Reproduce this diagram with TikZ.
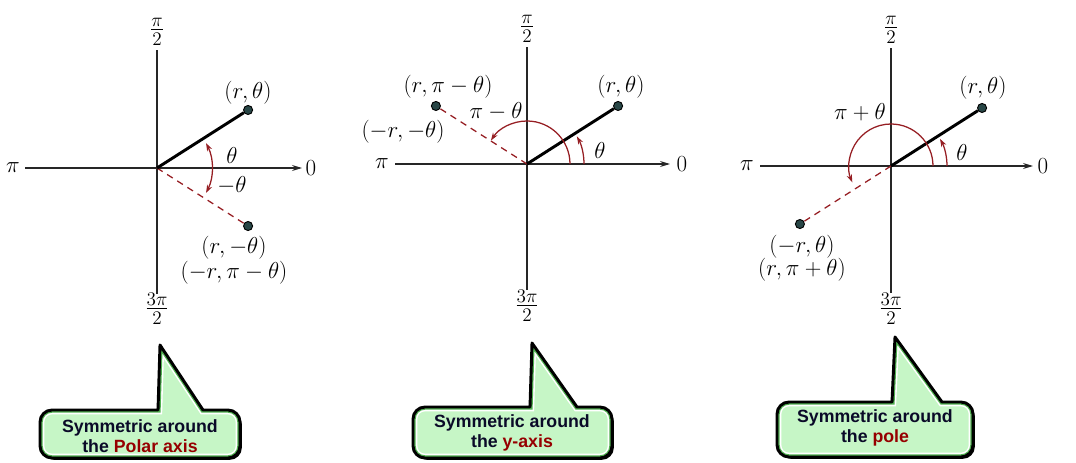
\documentclass[tikz,border=0pt]{standalone}
\usepackage{fontspec}
\newfontfamily\calloutfont{Liberation Sans}
\usetikzlibrary{arrows.meta}
\definecolor{dred}{RGB}{150,30,35}
\definecolor{cfill}{RGB}{198,246,198}
\definecolor{cgreen}{RGB}{80,175,80}
\definecolor{tred}{RGB}{150,0,0}
\definecolor{tnavy}{RGB}{10,10,40}
\definecolor{ptfill}{RGB}{40,70,70}
\tikzset{
  axisline/.style={line width=0.85pt, draw=black!85},
  axisarrow/.style={axisline, -{Stealth[length=7.5pt,width=4.5pt]}},
  rayline/.style={line width=2.2pt, black},
  refl/.style={dred, dash pattern=on 5pt off 4pt, line width=0.95pt},
  angarc/.style={dred, line width=0.95pt, -{Stealth[length=6pt,width=4pt]}},
  angarcboth/.style={dred, line width=0.95pt, {Stealth[length=6pt,width=4pt]}-{Stealth[length=6pt,width=4pt]}},
  ptdot/.style={circle, fill=ptfill, draw=black, line width=0.7pt, minimum size=6.8pt, inner sep=0pt},
  lbl/.style={font=\fontsize{16.5}{19}\selectfont, inner sep=0pt},
  fraclbl/.style={font=\fontsize{15}{17}\selectfont, inner sep=0pt},
  ctext/.style={font=\calloutfont\bfseries\fontsize{13.3}{15}\selectfont, align=center, text=tnavy, inner sep=0pt},
}
\newcommand{\myfrac}[2]{$\frac{\textstyle #1\rule[-1.2pt]{0pt}{0pt}}{\textstyle\rule{0pt}{11.5pt}#2}$}
% #1 L, #2 R, #3 B, #4 T, #5 pointer base left, #6 pointer base right, #7 tip x, #8 tip y
\newcommand{\mycallout}[8]{%
  \def\cshape{(#5,#4) -- (#7,#8) -- (#6,#4) -- (#2-12,#4) arc[start angle=90,end angle=0,radius=12] -- (#2,#3+12) arc[start angle=0,end angle=-90,radius=12] -- (#1+12,#3) arc[start angle=270,end angle=180,radius=12] -- (#1,#4-12) arc[start angle=180,end angle=90,radius=12] -- cycle}%
  \begin{scope}[shift={(1.8,-1.8)}]\fill[black] \cshape;\end{scope}
  \fill[cfill] \cshape;
  \begin{scope}
    \clip \cshape;
    \draw[white, line width=6.4pt] \cshape;
    \draw[cgreen, line width=4pt] \cshape;
  \end{scope}
  \draw[black, line width=2.2pt, line join=round] \cshape;
}
\begin{document}
\begin{tikzpicture}[x=0.75pt,y=0.75pt]
\useasboundingbox (0,0) rectangle (1076,462);

% ---------------- Panel 1 ----------------
\begin{scope}[shift={(157,294)}]
  \coordinate (O1) at (0,0);
  \coordinate (T1) at (0,118);
  \coordinate (D1) at (0,-126);
  \coordinate (L1) at (-132,0);
  \coordinate (R1) at (145,0);
  \draw[axisline] (D1) -- (T1);
  \draw[axisarrow] (L1) -- (R1);
  \node[fraclbl] (n1top) at (0,136) {\myfrac{\pi}{2}};
  \node[fraclbl] (n1bot) at (0,-141) {\myfrac{3\pi}{2}};
  \node[lbl] (n1pi) at (-144,0) {$\pi$};
  \node[lbl] (n1zero) at (154,0) {$0$};
  \node[ptdot] (A1) at (32.5:108) {};
  \node[ptdot] (B1) at (-32.5:108) {};
  \draw[refl] (O1) -- (B1);
  \draw[rayline] (O1) -- (A1);
  \draw[angarcboth] (-27:55) arc[start angle=-27, end angle=27, radius=55];
  \node[lbl] (a1lab) at (91,75) {$(r,\theta)$};
  \node[lbl] (th1) at (75,13) {$\theta$};
  \node[lbl] (mth1) at (75,-17) {$-\theta$};
  \node[lbl] (b1lab) at (77,-80) {$(r,-\theta)$};
  \node[lbl] (b1lab2) at (77,-105) {$(-r,\pi-\theta)$};
\end{scope}

% ---------------- Panel 2 ----------------
\begin{scope}[shift={(527,298)}]
  \coordinate (O2) at (0,0);
  \coordinate (T2) at (0,117);
  \coordinate (D2) at (0,-126);
  \coordinate (L2) at (-132,0);
  \coordinate (R2) at (143,0);
  \draw[axisline] (D2) -- (T2);
  \draw[axisarrow] (L2) -- (R2);
  \node[fraclbl] (n2top) at (0,135) {\myfrac{\pi}{2}};
  \node[fraclbl] (n2bot) at (0,-142) {\myfrac{3\pi}{2}};
  \node[lbl] (n2pi) at (-145,0) {$\pi$};
  \node[lbl] (n2zero) at (155,0) {$0$};
  \node[ptdot] (A2) at (32.5:108) {};
  \node[ptdot] (B2) at (147.5:108) {};
  \draw[refl] (O2) -- (B2);
  \draw[rayline] (O2) -- (A2);
  \draw[angarc] (0:57) arc[start angle=0, end angle=29, radius=57];
  \draw[angarc] (0:43) arc[start angle=0, end angle=147, radius=43];
  \node[lbl] (a2lab) at (94,77) {$(r,\theta)$};
  \node[lbl] (b2lab) at (-79,77) {$(r,\pi-\theta)$};
  \node[lbl] (b2lab2) at (-124,32) {$(-r,-\theta)$};
  \node[lbl] (pmt) at (-31,53) {$\pi-\theta$};
  \node[lbl] (th2) at (73,14) {$\theta$};
\end{scope}

% ---------------- Panel 3 ----------------
\begin{scope}[shift={(891,296)}]
  \coordinate (O3) at (0,0);
  \coordinate (T3) at (0,118);
  \coordinate (D3) at (0,-127);
  \coordinate (L3) at (-131,0);
  \coordinate (R3) at (142,0);
  \draw[axisline] (D3) -- (T3);
  \draw[axisarrow] (L3) -- (R3);
  \node[fraclbl] (n3top) at (0,136) {\myfrac{\pi}{2}};
  \node[fraclbl] (n3bot) at (0,-143) {\myfrac{3\pi}{2}};
  \node[lbl] (n3pi) at (-144,0) {$\pi$};
  \node[lbl] (n3zero) at (152,0) {$0$};
  \node[ptdot] (A3) at (32.5:108) {};
  \node[ptdot] (B3) at (212.5:108) {};
  \draw[refl] (O3) -- (B3);
  \draw[rayline] (O3) -- (A3);
  \draw[angarc] (0:56) arc[start angle=0, end angle=29, radius=56];
  \draw[angarc] (0:42) arc[start angle=0, end angle=203, radius=42];
  \node[lbl] (a3lab) at (92,78) {$(r,\theta)$};
  \node[lbl] (ppt) at (-31,54) {$\pi+\theta$};
  \node[lbl] (th3) at (71,14) {$\theta$};
  \node[lbl] (b3lab) at (-89,-81) {$(-r,\theta)$};
  \node[lbl] (b3lab2) at (-89,-104) {$(r,\pi+\theta)$};
\end{scope}

% ---------------- Callouts ----------------
\mycallout{40}{240}{4}{52}{158}{203}{160}{117}
\node[ctext] (c1) at (140,26) {Symmetric around\\the \textcolor{tred}{Polar axis}};

\mycallout{413}{612}{4}{55}{530}{577}{532}{119}
\node[ctext] (c2) at (512,29) {Symmetric around\\the \textcolor{tred}{y-axis}};

\mycallout{777}{973}{5}{60}{892}{942}{895}{125}
\node[ctext] (c3) at (875,34) {Symmetric around\\the \textcolor{tred}{pole}};
\end{tikzpicture}
\end{document}
